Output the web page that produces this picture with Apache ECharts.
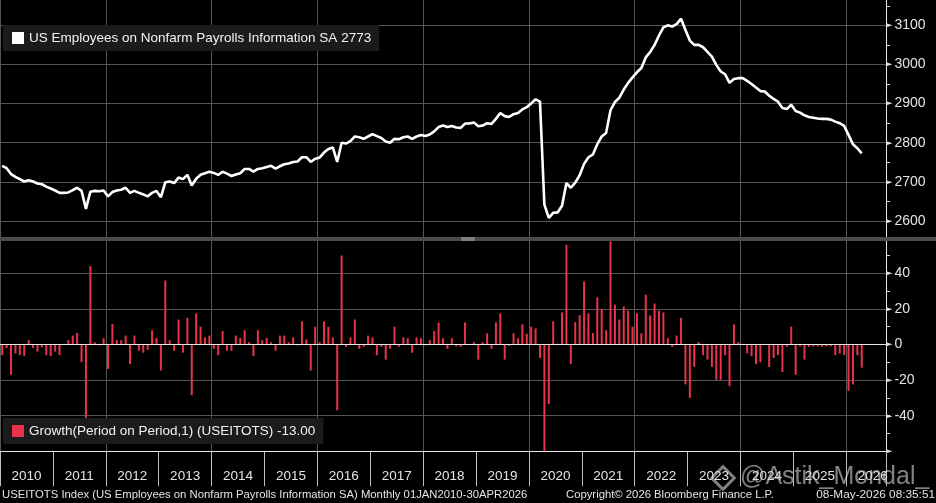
<!DOCTYPE html>
<html><head><meta charset="utf-8">
<script src="https://cdn.jsdelivr.net/npm/echarts@6/dist/echarts.min.js"></script>
<style>html,body{margin:0;padding:0;background:#000;}#c{width:936px;height:503px;}</style>
</head><body><div id="c"></div>
<script>
const FONT = 'Liberation Sans, Arial, sans-serif';

// Monthly categories Jan 2010 .. Sep 2026 (axis runs a few months past the data)
const startYear = 2010, endYear = 2026, lastAxisMonth = 9;
const months = [];
for (let y = startYear; y <= endYear; y++) {
  for (let m = 1; m <= 12; m++) {
    if (y === endYear && m > lastAxisMonth) break;
    months.push(y + '-' + (m < 10 ? '0' + m : m));
  }
}

// US Employees on Nonfarm Payrolls: Information, SA (thousands), Jan 2010 .. Apr 2026
const employees = [
  2741, 2735, 2720, 2713, 2707, 2701, 2704, 2701, 2696, 2694, 2688, 2683,
  2678, 2672, 2672, 2673, 2679, 2685, 2677, 2631, 2675, 2677, 2676, 2678,
  2663, 2674, 2678, 2680, 2685, 2672, 2677, 2672, 2668, 2663, 2672, 2677,
  2661, 2699, 2701, 2697, 2711, 2707, 2718, 2691, 2708, 2718, 2722, 2726,
  2723, 2718, 2726, 2721, 2715, 2719, 2722, 2733, 2733, 2726, 2733, 2735,
  2738, 2741, 2734, 2740, 2745, 2747, 2751, 2752, 2763, 2763, 2751, 2759,
  2762, 2775, 2784, 2788, 2751, 2800, 2798, 2804, 2816, 2814, 2810, 2816,
  2822, 2817, 2812, 2803, 2800, 2810, 2809, 2814, 2816, 2810, 2816, 2820,
  2817, 2821, 2829, 2840, 2844, 2840, 2843, 2839, 2838, 2849, 2849, 2852,
  2842, 2844, 2850, 2848, 2861, 2876, 2868, 2866, 2873, 2876, 2885, 2891,
  2900, 2911, 2905, 2642, 2608, 2621, 2622, 2639, 2697, 2685, 2698, 2717,
  2746, 2763, 2770, 2796, 2816, 2825, 2883, 2904, 2915, 2936, 2953, 2967,
  2980, 2991, 3018, 3032, 3050, 3074, 3095, 3100, 3097, 3103, 3117, 3088,
  3061, 3050, 3050, 3044, 3032, 3020, 2999, 2982, 2975, 2953, 2963, 2965,
  2965, 2958, 2950, 2941, 2932, 2931, 2920, 2912, 2905, 2889, 2886, 2897,
  2881, 2877, 2870, 2866, 2864, 2862, 2861, 2861, 2859, 2854, 2850, 2843,
  2820, 2796, 2786, 2773
];

// Growth (period on period, 1): monthly change, Jan 2010 .. Apr 2026
const growth = [
  -6, -2, -17, -5, -6, -6.5, 2.5, -2, -4, -1.5, -6, -6.5,
  -4, -6, 0, 2.5, 5, 6.5, -10, -42, 44, 1.3, -0.5, 3.5,
  -13.7, 11.5, 2.4, 2.4, 5, -11, 5, -3.5, -4.6, -3, 8, 3.7,
  -14.6, 36, 2.4, -3.5, 14, -4.6, 15, -28.5, 17.5, 10, 4, 5,
  -2.4, -6, 7.6, -3.5, -3.5, 5, 3.7, 8, 1.3, -6.5, 8, 2.4,
  3.7, 1.3, -3.5, 5, 5, 1.3, 4, -0.5, 13, 2.8, -14.6, 10,
  1.3, 13, 10, 4, -37, 50, -1.3, 4, 14, -2.4, -1.3, 5,
  4, -6, -1.3, -8.5, -2.4, 10, -1.3, 4, 3.5, -4.6, 4, 3.5,
  -0.5, 2.4, 7.6, 12.4, 3.5, -2.4, 3.5, -1, -1.3, 12.4, 0, 1.3,
  -8.5, 1.3, 6.3, -2.4, 12.4, 17.5, -8.5, -0.7, 6.3, 3.5, 11.3, 6.1,
  10, 9, -7.6, -263, -33.5, 13, 0.5, 18, 56, -11, 12.6, 16.5,
  35.4, 17.5, 6.5, 26.5, 20, 8, 58, 22.4, 14, 21.3, 19, 10,
  17.5, 6.3, 28, 16.3, 23, 19, 18, 3.5, -1.3, 5, 15, -22.4,
  -30, -12.6, 1.3, -6, -8.5, -12.6, -19.8, -19.8, -6, -23.5, 11.3, 1.3,
  0.3, -5, -6.5, -11, -10, -0.3, -12.6, -7.6, -6, -15.4, -1.3, 10,
  -17, -1, -8.5, -1.3, -1, -1, -1.3, -1, -1, -6, -5, -6,
  -26, -22.4, -6, -13
];

const lineName = 'US Employees on Nonfarm Payrolls Information SA';
const barName = 'Growth(Period on Period,1) (USEITOTS)';
const footerLeft = 'USEITOTS Index (US Employees on Nonfarm Payrolls Information SA) Monthly 01JAN2010-30APR2026';
const footerMid = 'Copyright\u00A9 2026 Bloomberg Finance L.P.';
const footerRight = '08-May-2026 08:35:51';

const lastEmp = employees[employees.length - 1];
const lastGrowth = growth[growth.length - 1];

const TXT = '#e4e4e4';
const GRID = '#555555';
const RED = '#e8334b';

const chart = echarts.init(document.getElementById('c'), null, {renderer: 'canvas'});

const arrowRich = {
  a: {fontFamily: 'DejaVu Sans', fontSize: 7, color: '#dddddd', padding: [0, 2, 0, 0]},
  b: {fontFamily: FONT, fontSize: 14, color: TXT}
};

chart.setOption({
  backgroundColor: '#000',
  animation: false,
  textStyle: {fontFamily: FONT},
  grid: [
    {left: -2, right: 50, top: 0, height: 240.6},
    {left: -2, right: 50, top: 237.7, height: 213.6}
  ],
  legend: [
    {
      data: [lineName], left: 3, top: 25, selectedMode: false,
      padding: [6, 8, 6, 9], backgroundColor: '#1b1b1b',
      icon: 'rect', itemWidth: 12, itemHeight: 12,
      textStyle: {color: '#f2f2f2', fontSize: 13.5, fontFamily: FONT},
      formatter: n => n + ' ' + lastEmp
    },
    {
      data: [barName], left: 3, top: 418, selectedMode: false,
      padding: [6, 8, 6, 9], backgroundColor: '#1b1b1b',
      icon: 'rect', itemWidth: 12, itemHeight: 12,
      textStyle: {color: '#f2f2f2', fontSize: 13.5, fontFamily: FONT},
      formatter: n => n + ' ' + lastGrowth.toFixed(2)
    }
  ],
  xAxis: [
    {
      type: 'category', gridIndex: 0, data: months, boundaryGap: true,
      axisLine: {show: false, onZero: false}, axisTick: {show: false}, axisLabel: {show: false},
      splitLine: {show: true, interval: (i) => i % 24 === 0, lineStyle: {color: GRID, width: 1}}
    },
    {
      type: 'category', gridIndex: 1, data: months, boundaryGap: true,
      axisLine: {show: true, onZero: false, lineStyle: {color: '#e8e8e8', width: 1}},
      axisTick: {show: true, interval: (i) => i % 12 === 0, length: 35, lineStyle: {color: '#bdbdbd', width: 1}},
      axisLabel: {
        show: true, interval: (i) => i % 12 === 6, margin: 18,
        color: TXT, fontSize: 13.5, fontFamily: FONT, padding: [0, 4.4, 0, 0],
        formatter: v => v.slice(0, 4)
      },
      splitLine: {show: true, interval: (i) => i % 24 === 0, lineStyle: {color: GRID, width: 1}}
    }
  ],
  yAxis: [
    {
      type: 'value', gridIndex: 0, position: 'right', min: 2550, max: 3164.7, interval: 50,
      axisLine: {show: true, lineStyle: {color: '#e8e8e8', width: 1}},
      axisTick: {show: true, length: 4, lineStyle: {color: '#dddddd'}},
      axisLabel: {
        margin: 1, rich: arrowRich, showMaxLabel: false,
        formatter: v => (v % 100 === 0 && v >= 2600 && v <= 3100) ? '{a|\u25BA}{b|' + v + '}' : ''
      },
      splitLine: {show: true, showMaxLine: false, lineStyle: {color: ['rgba(0,0,0,0)', GRID], width: 1}}
    },
    {
      type: 'value', gridIndex: 1, position: 'right', min: -60, max: 60, interval: 10,
      axisLine: {show: true, lineStyle: {color: '#e8e8e8', width: 1}},
      axisTick: {show: true, length: 4, lineStyle: {color: '#dddddd'}},
      axisLabel: {
        margin: 1, rich: arrowRich,
        formatter: v => {
          if (v === -60) return '{a|\u25BA}';
          if (v % 20 === 0 && v > -60 && v < 60) return '{a|\u25BA}{b|' + v + '}';
          return '';
        }
      },
      splitLine: {show: true, lineStyle: {color: [GRID, 'rgba(0,0,0,0)'], width: 1}}
    }
  ],
  series: [
    {
      name: lineName, type: 'line', xAxisIndex: 0, yAxisIndex: 0,
      data: employees, showSymbol: false, symbol: 'none',
      lineStyle: {color: '#ffffff', width: 2.6}, itemStyle: {color: '#ffffff'},
      markLine: {
        silent: true, symbol: ['none', 'none'],
        lineStyle: {opacity: 0, type: 'solid'},
        data: [{yAxis: lastEmp}],
        label: {
          show: true, position: 'end', distance: 0,
          formatter: '{a|\u25C0}{b|' + lastEmp + '}',
          rich: {
            a: {fontFamily: 'DejaVu Sans', fontSize: 13, color: '#ffffff', padding: [0, 0, 0, 0]},
            b: {fontFamily: FONT, fontSize: 14, color: '#000000', backgroundColor: '#ffffff', padding: [2, 4, 1, 1]}
          }
        }
      }
    },
    {
      name: barName, type: 'bar', xAxisIndex: 1, yAxisIndex: 1,
      data: growth, barWidth: 2, clip: true,
      itemStyle: {color: RED},
      markLine: {
        silent: true, symbol: ['none', 'none'],
        data: [
          {yAxis: 0, lineStyle: {color: '#e6e6e6', width: 1, type: 'solid', opacity: 1}, label: {show: false}},
          {
            yAxis: lastGrowth, lineStyle: {opacity: 0, type: 'solid'},
            label: {
              show: true, position: 'end', distance: 0,
              formatter: '{a|\u25C0}{b|' + lastGrowth.toFixed(2) + '}',
              rich: {
                a: {fontFamily: 'DejaVu Sans', fontSize: 15, color: RED},
                b: {fontFamily: FONT, fontSize: 14, color: '#ffffff', backgroundColor: RED, padding: [3, 2, 2, 0]}
              }
            }
          }
        ]
      }
    }
  ],
  graphic: [
    {type: 'rect', z: 100, shape: {x: 0, y: 237, width: 936, height: 4}, style: {fill: '#4b4b4b'}},
    {type: 'line', z: 101, shape: {x1: 461, y1: 238, x2: 475, y2: 238}, style: {stroke: '#b0b0b0', lineWidth: 1}},
    {type: 'line', z: 101, shape: {x1: 461, y1: 240, x2: 475, y2: 240}, style: {stroke: '#b0b0b0', lineWidth: 1}},
    {type: 'text', z: 100, left: 2, top: 489, style: {text: footerLeft, fill: TXT, font: '11.3px ' + FONT}},
    {type: 'text', z: 100, left: 566, top: 489, style: {text: footerMid, fill: TXT, font: '11.3px ' + FONT}},
    {type: 'text', z: 100, right: 1, top: 489, style: {text: footerRight, fill: TXT, font: '11.8px ' + FONT}},
    {type: 'rect', z: 110, x: 723, y: 478, rotation: Math.PI / 4,
      shape: {x: -8, y: -8, width: 16, height: 16}, style: {fill: 'none', stroke: 'rgba(215,215,215,0.6)', lineWidth: 3}},
    {type: 'text', z: 110, left: 740, top: 465, style: {text: '@Astik_Mondal_', fill: 'rgba(215,215,215,0.6)', font: '25px ' + FONT}}
  ]
});
</script>
</body></html>
